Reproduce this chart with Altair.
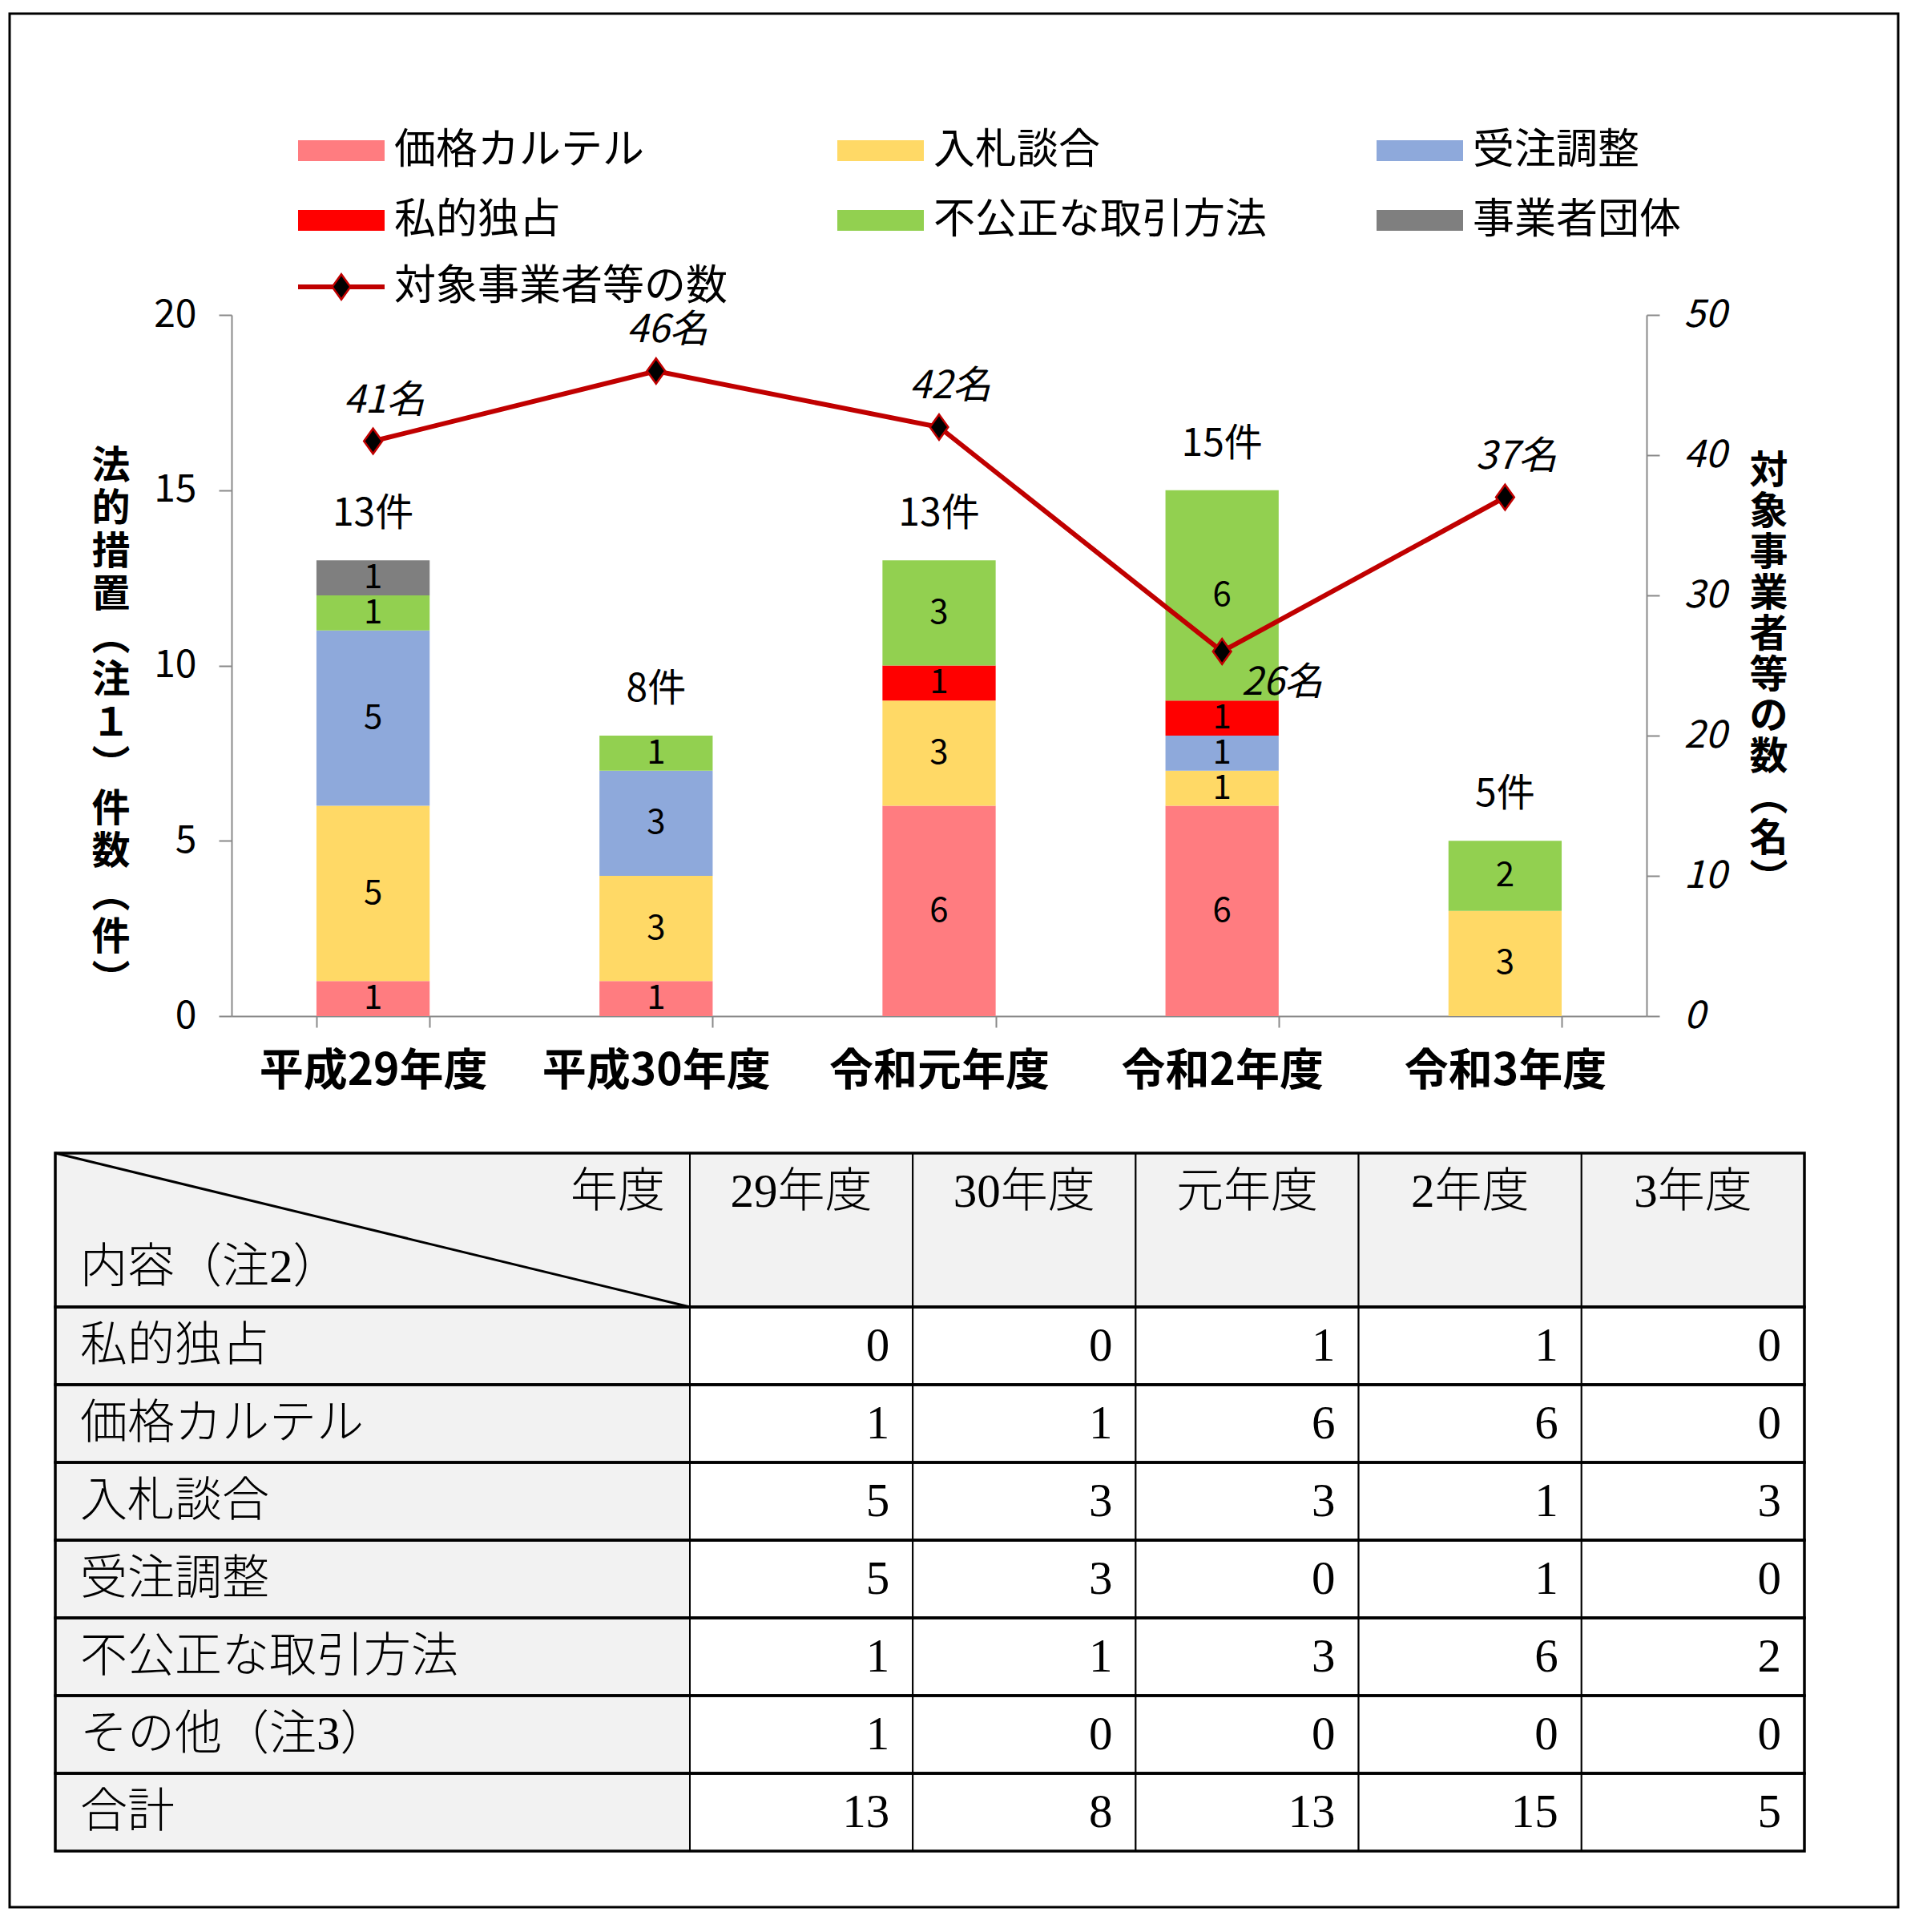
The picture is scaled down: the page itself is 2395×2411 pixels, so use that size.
import altair as alt
import pandas as pd

# ---------------- data ----------------
years = ["平成29年度", "平成30年度", "令和元年度", "令和2年度", "令和3年度"]
table_years = ["29年度", "30年度", "元年度", "2年度", "3年度"]
series = ["価格カルテル", "入札談合", "受注調整", "私的独占", "不公正な取引方法", "事業者団体"]
price_cartel = [1, 1, 6, 6, 0]
bid_rigging = [5, 3, 3, 1, 3]
order_adjust = [5, 3, 0, 1, 0]
private_monopoly = [0, 0, 1, 1, 0]
unfair_trade = [1, 1, 3, 6, 2]
trade_assoc = [1, 0, 0, 0, 0]
firms = [41, 46, 42, 26, 37]
line_name = "対象事業者等の数"
table_rows = ["私的独占", "価格カルテル", "入札談合", "受注調整", "不公正な取引方法", "その他（注3）", "合計"]

colors = ["#FF7C80", "#FFD966", "#8EA9DB", "#FF0000", "#92D050", "#7F7F7F"]
line_color = "#C00000"

series_values = [price_cartel, bid_rigging, order_adjust, private_monopoly, unfair_trade, trade_assoc]
totals = [sum(x) for x in zip(*series_values)]

df = pd.DataFrame([
    {"year": y, "series": name, "order": i, "v": v}
    for i, (name, vals) in enumerate(zip(series, series_values))
    for y, v in zip(years, vals)
])
tot_df = pd.DataFrame({"year": years, "total": totals, "label": [f"{t}件" for t in totals]})
line_df = pd.DataFrame({"year": years, "n": firms, "label": [f"{n}名" for n in firms]})

table_vals = [private_monopoly, price_cartel, bid_rigging, order_adjust, unfair_trade, trade_assoc, totals]
tdf = pd.DataFrame([
    {"row": r, "col": c, "value": v}
    for r, vals in zip(table_rows, table_vals)
    for c, v in zip(table_years, vals)
])
rows_df = pd.DataFrame({"row": table_rows})
cols_df = pd.DataFrame({"col": table_years})
one = pd.DataFrame({"k": [0]})

# legend is filled column by column (2 rows x 3 columns): reorder so it reads row-wise
legend_order = [0, 3, 1, 4, 2, 5]
legend_domain = [series[i] for i in legend_order]
legend_range = [colors[i] for i in legend_order]

# ---------------- layout ----------------
FONT = "Noto Sans CJK JP"
TFONT = "Liberation Serif, Noto Sans CJK JP"
W, H = 2357, 2363
PX0, PX1 = 277, 2043
PY0, PY1 = 1251, 376
TX0, TXC, TX1 = 57, 849, 2240
TY0, TYH, TY1 = 1422, 1614, 2293
GRAY = "#898989"
DIAMOND = "M0,-1L0.72,0L0,1L-0.72,0Z"

xs = alt.Scale(type="band", domain=years, range=[PX0, PX1], paddingInner=0.6, paddingOuter=0.3)
yl = alt.Scale(domain=[0, 20], range=[PY0, PY1], nice=False)
yr = alt.Scale(domain=[0, 50], range=[PY0, PY1], nice=False)
txs = alt.Scale(type="band", domain=table_years, range=[TXC, TX1], paddingInner=0, paddingOuter=0)
tys = alt.Scale(type="band", domain=table_rows, range=[TYH, TY1], paddingInner=0, paddingOuter=0)

left_title = ["法", "的", "措", "置", "︵", "注", "１", "︶", "件", "数", "︵", "件", "︶"]
right_title = ["対", "象", "事", "業", "者", "等", "の", "数", "︵", "名", "︶"]

xaxis = alt.Axis(orient="bottom", offset=PY0 - H, tickBand="extent", tickSize=14,
                 labelPadding=54, labelBaseline="middle", labelFontSize=55, labelFont=FONT,
                 labelFontWeight="bold", labelAngle=0, labelColor="black", labelLimit=1000,
                 domainColor=GRAY, tickColor=GRAY, domainWidth=2, tickWidth=2, grid=False, title=None)
yaxis_l = alt.Axis(orient="left", offset=-PX0, values=[0, 5, 10, 15, 20], tickSize=16,
                   labelPadding=28, labelFontSize=48, labelFont=FONT, labelColor="black",
                   labelFlush=False, domainColor=GRAY, tickColor=GRAY, domainWidth=2, tickWidth=2,
                   grid=False, title=left_title, titleAngle=0, titleX=-151, titleY=541,
                   titleAlign="center", titleBaseline="top", titleLineHeight=53.5,
                   titleFontSize=48, titleFont=FONT, titleFontWeight="bold", titleColor="black")
yaxis_r = alt.Axis(orient="right", offset=PX1 - W, values=[0, 10, 20, 30, 40, 50], tickSize=16,
                   labelPadding=30, labelFontSize=48, labelFont=FONT, labelFontStyle="italic",
                   labelColor="black", labelFlush=False, domainColor=GRAY, tickColor=GRAY,
                   domainWidth=2, tickWidth=2, grid=False, title=right_title, titleAngle=0,
                   titleX=152, titleY=547, titleAlign="center", titleBaseline="top",
                   titleLineHeight=51, titleFontSize=48, titleFont=FONT, titleFontWeight="bold",
                   titleColor="black")

legend = alt.Legend(orient="none", legendX=360, legendY=146, columns=3, title=None,
                    symbolType="M-1,-0.24H1V0.24H-1Z", symbolSize=11664, symbolStrokeWidth=0,
                    symbolOpacity=1, labelFontSize=52, labelFont=FONT, labelColor="black",
                    labelOffset=12, labelLimit=2000, columnPadding=136, rowPadding=35,
                    gridAlign="all", padding=0, clipHeight=50)

# ---------------- chart layers ----------------
stacked = alt.Chart(df).transform_stack(
    stack="v", groupby=["year"], as_=["v0", "v1"], sort=[alt.SortField("order", "ascending")]
).transform_filter("datum.v > 0")

bars = stacked.mark_bar(opacity=1).encode(
    x=alt.X("year:N", scale=xs, axis=xaxis),
    y=alt.Y("v0:Q", scale=yl, axis=yaxis_l),
    y2="v1:Q",
    color=alt.Color("series:N", scale=alt.Scale(domain=legend_domain, range=legend_range),
                    legend=legend),
)

bar_text = stacked.transform_calculate(mid="(datum.v0 + datum.v1) / 2").mark_text(
    font=FONT, fontSize=42, color="black", baseline="middle"
).encode(
    x=alt.X("year:N", scale=xs, axis=None),
    y=alt.Y("mid:Q", scale=yl, axis=None),
    text="v:Q",
)

tot_text = alt.Chart(tot_df).mark_text(font=FONT, fontSize=48, color="black", dy=-57,
                                       baseline="middle").encode(
    x=alt.X("year:N", scale=xs, axis=None),
    y=alt.Y("total:Q", scale=yl, axis=None),
    text="label:N",
)

line = alt.Chart(line_df).mark_line(color=line_color, strokeWidth=6).encode(
    x=alt.X("year:N", scale=xs, axis=None),
    y=alt.Y("n:Q", scale=yr, axis=yaxis_r),
)

pts = alt.Chart(line_df).mark_point(shape=DIAMOND, size=1000, filled=True, fill="black",
                                    stroke=line_color, strokeWidth=2.5, opacity=1).encode(
    x=alt.X("year:N", scale=xs, axis=None),
    y=alt.Y("n:Q", scale=yr, axis=None),
)

lbl_up = alt.Chart(line_df).transform_filter("datum.n >= 30").mark_text(
    font=FONT, fontSize=48, fontStyle="italic", color="black", dx=14, dy=-50, baseline="middle"
).encode(
    x=alt.X("year:N", scale=xs, axis=None),
    y=alt.Y("n:Q", scale=yr, axis=None),
    text="label:N",
)
lbl_dn = alt.Chart(line_df).transform_filter("datum.n < 30").mark_text(
    font=FONT, fontSize=48, fontStyle="italic", color="black", dx=75, dy=40, baseline="middle"
).encode(
    x=alt.X("year:N", scale=xs, axis=None),
    y=alt.Y("n:Q", scale=yr, axis=None),
    text="label:N",
)

# line legend entry
leg_line = alt.Chart(one).mark_rule(color=line_color, strokeWidth=6).encode(
    x=alt.value(360), x2=alt.value(468), y=alt.value(341))
leg_pt = alt.Chart(one).mark_point(shape=DIAMOND, size=1000, filled=True, fill="black",
                                   stroke=line_color, strokeWidth=2.5, opacity=1).encode(
    x=alt.value(414), y=alt.value(341))
leg_txt = alt.Chart(one).mark_text(font=FONT, fontSize=52, color="black", align="left",
                                   baseline="middle").encode(
    x=alt.value(480), y=alt.value(341), text=alt.value(line_name))

# ---------------- table layers ----------------
hdr_corner = alt.Chart(one).mark_rect(fill="#F2F2F2", stroke="black", strokeWidth=2).encode(
    x=alt.value(TX0), x2=alt.value(TXC), y=alt.value(TY0), y2=alt.value(TYH))
hdr_cells = alt.Chart(cols_df).mark_rect(fill="#F2F2F2", stroke="black", strokeWidth=2).encode(
    x=alt.X("col:N", scale=txs, axis=None), y=alt.value(TY0), y2=alt.value(TYH))
row_cells = alt.Chart(rows_df).mark_rect(fill="#F2F2F2", stroke="black", strokeWidth=2).encode(
    x=alt.value(TX0), x2=alt.value(TXC), y=alt.Y("row:N", scale=tys, axis=None))
val_cells = alt.Chart(tdf).mark_rect(fill="white", stroke="black", strokeWidth=2).encode(
    x=alt.X("col:N", scale=txs, axis=None), y=alt.Y("row:N", scale=tys, axis=None))
row_lines = alt.Chart(rows_df).mark_rect(fillOpacity=0, stroke="black", strokeWidth=3.5).encode(
    x=alt.value(TX0), x2=alt.value(TX1), y=alt.Y("row:N", scale=tys, axis=None))
hdr_line = alt.Chart(one).mark_rect(fillOpacity=0, stroke="black", strokeWidth=3.5).encode(
    x=alt.value(TX0), x2=alt.value(TX1), y=alt.value(TY0), y2=alt.value(TYH))
diag = alt.Chart(one).mark_rule(color="black", strokeWidth=3).encode(
    x=alt.value(TX0), y=alt.value(TY0), x2=alt.value(TXC), y2=alt.value(TYH))

tfont = dict(font=TFONT, fontSize=59, fontWeight=300, color="black", baseline="middle")
hdr_year_txt = alt.Chart(cols_df).mark_text(align="center", **tfont).encode(
    x=alt.X("col:N", scale=txs, axis=None), y=alt.value(1471), text="col:N")
hdr_nendo = alt.Chart(one).mark_text(align="right", **tfont).encode(
    x=alt.value(818), y=alt.value(1471), text=alt.value("年度"))
hdr_naiyo = alt.Chart(one).mark_text(align="left", **tfont).encode(
    x=alt.value(88), y=alt.value(1565), text=alt.value("内容（注2）"))
row_txt = alt.Chart(rows_df).mark_text(align="left", **tfont).encode(
    x=alt.value(88), y=alt.Y("row:N", scale=tys, axis=None), text="row:N")
val_txt = alt.Chart(tdf).mark_text(align="right", dx=-29, **tfont).encode(
    x=alt.X("col:N", scale=txs, axis=None, bandPosition=1),
    y=alt.Y("row:N", scale=tys, axis=None), text="value:Q")

layers = [bars, bar_text, tot_text, line, pts, lbl_up, lbl_dn, leg_line, leg_pt, leg_txt,
          hdr_corner, hdr_cells, row_cells, val_cells, row_lines, hdr_line, diag,
          hdr_year_txt, hdr_nendo, hdr_naiyo, row_txt, val_txt]

chart = alt.layer(*layers).resolve_scale(
    x="independent", y="independent"
).properties(
    width=W, height=H,
    padding={"left": 4, "top": 9, "right": 10, "bottom": 10},
    autosize=alt.AutoSizeParams(type="none"),
    background="white",
).configure_view(stroke="black", strokeWidth=3, fill="white")

chart.save("out.html", embed_options={"renderer": "svg", "actions": False})
